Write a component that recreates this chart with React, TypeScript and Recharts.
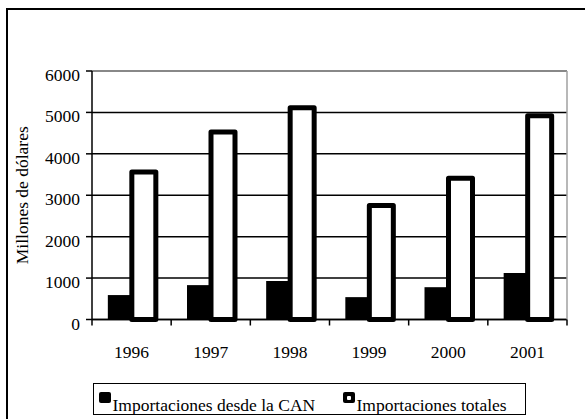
import { BarChart, Bar, XAxis, YAxis, CartesianGrid, Legend, ReferenceLine, Label } from "recharts";

const years = ["1996", "1997", "1998", "1999", "2000", "2001"];
const importsCAN = [590, 830, 930, 540, 780, 1120];
const importsTotal = [3560, 4530, 5110, 2750, 3410, 4920];
const yTicks = [0, 1000, 2000, 3000, 4000, 5000, 6000];

const seriesNames = {
    can: "Importaciones desde la CAN",
    total: "Importaciones totales",
};

const data = years.map((year, i) => ({ year, can: importsCAN[i], total: importsTotal[i] }));

const FONT = "'Liberation Serif', 'Times New Roman', Times, serif";
const FONT_SIZE = 17.5;
const textStyle = { fontFamily: FONT, fontSize: FONT_SIZE, fill: "#000" };
const TICK_SIZE = 6;
const TICK_MARGIN = 2;

// labels under the bars, tick marks between the categories (Excel style)
function YearTick(props: any) {
    const { x, y, payload, index, visibleTicksCount } = props;
    const axisY = y - TICK_SIZE - TICK_MARGIN;
    const half = payload.offset ?? 0;
    return (
        <g>
            <line x1={x - half} x2={x - half} y1={axisY} y2={axisY + TICK_SIZE} stroke="#000" strokeWidth={1.5} />
            {index === visibleTicksCount - 1 && (
                <line x1={x + half} x2={x + half} y1={axisY} y2={axisY + TICK_SIZE} stroke="#000" strokeWidth={1.5} />
            )}
            <text x={x} y={axisY + 38.5} textAnchor="middle" style={textStyle}>
                {payload.value}
            </text>
        </g>
    );
}

function ValueTick(props: any) {
    const { x, y, payload } = props;
    return (
        <text x={x - 4} y={y + 10} textAnchor="end" style={textStyle}>
            {payload.value}
        </text>
    );
}

function AxisTitle({ viewBox }: any) {
    const cx = viewBox.x + 28;
    const cy = viewBox.y + viewBox.height / 2;
    return (
        <text x={cx} y={cy} transform={`rotate(-90 ${cx} ${cy})`} textAnchor="middle" style={textStyle}>
            Millones de dólares
        </text>
    );
}

function LegendBox({ payload }: any) {
    return (
        <div
            style={{
                boxSizing: "border-box",
                width: 433,
                height: 32,
                overflow: "hidden",
                border: "1.5px solid #000",
                background: "#fff",
                display: "flex",
                alignItems: "flex-start",
                paddingLeft: 4.5,
                fontFamily: FONT,
                fontSize: FONT_SIZE,
                color: "#000",
            }}
        >
            {(payload || []).map((entry: any, i: number) => (
                <div key={entry.dataKey} style={{ display: "flex", alignItems: "flex-start", width: i === 0 ? 244 : undefined }}>
                    <div
                        style={{
                            marginTop: 8,
                            width: 12.5,
                            height: 11,
                            borderRadius: 2,
                            background: "#000",
                            display: "flex",
                            alignItems: "center",
                            justifyContent: "center",
                        }}
                    >
                        {entry.dataKey === "total" && <div style={{ width: 4, height: 4, background: "#fff", borderRadius: 1 }} />}
                    </div>
                    <span style={{ marginTop: 13, marginLeft: 1.5, lineHeight: "16px", whiteSpace: "nowrap" }}>{entry.value}</span>
                </div>
            ))}
        </div>
    );
}

export default function App() {
    return (
        <div style={{ position: "absolute", left: 0, top: 0, width: 585, height: 419, overflow: "hidden", background: "#fff" }}>
            <div style={{ position: "absolute", left: 6, top: 8, width: 640, height: 480, border: "2px solid #000" }} />
            <div style={{ position: "absolute", left: 0, top: 0 }}>
                <BarChart
                    width={585}
                    height={419}
                    data={data}
                    margin={{ top: 71, right: 17, bottom: 27.5, left: 0 }}
                    barCategoryGap="20%"
                    barGap={0}
                    style={{ fontFamily: FONT }}
                >
                    <CartesianGrid vertical={false} stroke="#000" strokeWidth={1.5} />
                    <XAxis
                        dataKey="year"
                        interval={0}
                        height={40}
                        tickLine={false}
                        tickSize={TICK_SIZE}
                        tickMargin={TICK_MARGIN}
                        axisLine={{ stroke: "#000", strokeWidth: 1.5 }}
                        tick={<YearTick />}
                    />
                    <YAxis
                        width={92}
                        domain={[0, 6000]}
                        ticks={yTicks}
                        interval={0}
                        tickSize={TICK_SIZE}
                        tickMargin={TICK_MARGIN}
                        axisLine={{ stroke: "#000", strokeWidth: 1.5 }}
                        tickLine={{ stroke: "#000", strokeWidth: 1.5 }}
                        tick={<ValueTick />}
                        label={<Label content={<AxisTitle />} />}
                    />
                    <YAxis
                        yAxisId="right"
                        orientation="right"
                        width={1}
                        domain={[0, 6000]}
                        tick={false}
                        tickLine={false}
                        axisLine={{ stroke: "#a0a0a0", strokeWidth: 1.5 }}
                    />
                    <ReferenceLine y={6000} stroke="#a0a0a0" strokeWidth={1.5} />
                    <Bar dataKey="can" name={seriesNames.can} fill="#000" isAnimationActive={false} />
                    <Bar
                        dataKey="total"
                        name={seriesNames.total}
                        fill="#fff"
                        stroke="#000"
                        strokeWidth={5}
                        strokeLinejoin="round"
                        isAnimationActive={false}
                    />
                    <Legend content={<LegendBox />} wrapperStyle={{ left: 93, top: 383, width: 433, height: 32 }} />
                </BarChart>
            </div>
        </div>
    );
}
